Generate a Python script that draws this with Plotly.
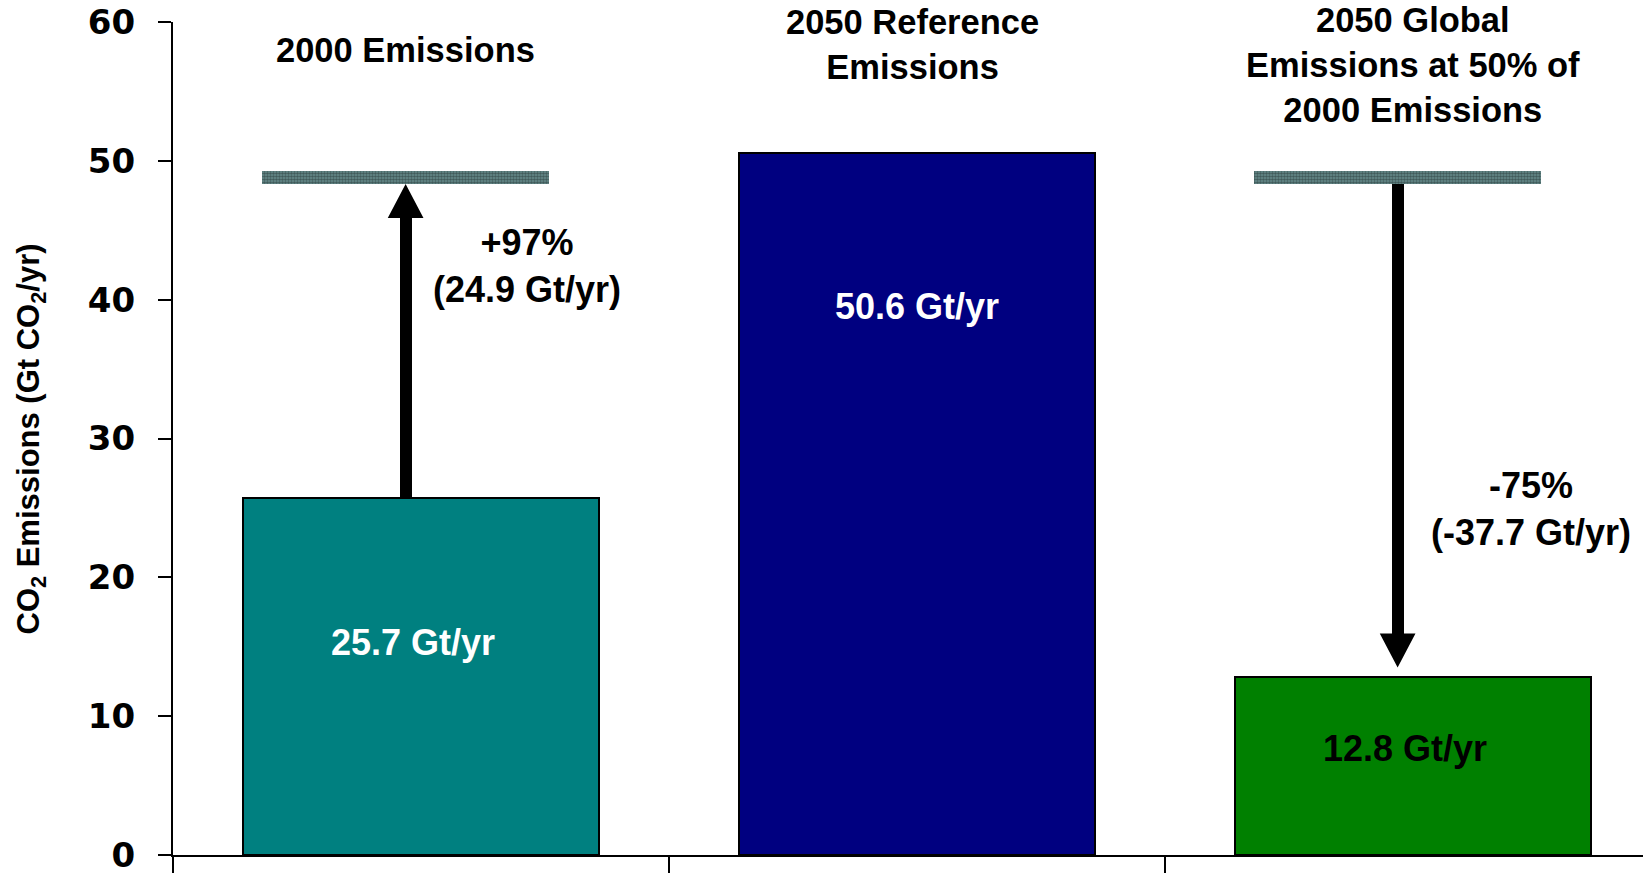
import plotly.graph_objects as go

# --- data -------------------------------------------------------------
CATEGORIES = [
    "2000 Emissions",
    "2050 Reference<br>Emissions",
    "2050 Global<br>Emissions at 50% of<br>2000 Emissions",
]
VALUES = [25.7, 50.6, 12.8]            # Gt CO2 / yr
BAR_COLORS = ["#008080", "#000080", "#008000"]
LABEL_COLORS = ["white", "white", "black"]
CHANGE_PCT = ["+97%", "-75%"]
CHANGE_ABS = [24.9, -37.7]              # Gt / yr
REFERENCE_MARK = 48.8                   # level of the hatched marker bands
Y_TICKS = [0, 10, 20, 30, 40, 50, 60]

# --- styling ----------------------------------------------------------
FONT = "Liberation Sans, Arial, sans-serif"
TICK_FONT = "DejaVu Sans, Arial, sans-serif"
BAR_WIDTH = 0.716
MARK_WIDTH = 0.58
MARK_HALF_THICK = 0.47
ARROW_OFFSET = -0.031                   # arrows sit slightly left of bar centre
SHAFT_W = 0.0242
HEAD_HALF_W = 0.036
HEAD_LEN = 2.45
HEAD_GAP = 0.7

x_idx = list(range(len(VALUES)))
fig = go.Figure()

# main bars
fig.add_trace(go.Bar(
    x=x_idx, y=VALUES, width=BAR_WIDTH,
    marker=dict(color=BAR_COLORS, line=dict(color="black", width=2)),
    hoverinfo="skip", showlegend=False,
))

# hatched marker bands above the first and last bars
band_x = [0 + ARROW_OFFSET, 2 + ARROW_OFFSET]
fig.add_trace(go.Bar(
    x=band_x, y=[2 * MARK_HALF_THICK] * 2,
    base=[REFERENCE_MARK - MARK_HALF_THICK] * 2, width=MARK_WIDTH,
    marker=dict(color="#6a8f8f", line=dict(width=0),
                pattern=dict(shape=".", fgcolor="#182424", bgcolor="#6a9090",
                             size=3, solidity=0.6)),
    hoverinfo="skip", showlegend=False,
))

band_bottom = REFERENCE_MARK - MARK_HALF_THICK

# up arrow: from the 2000 bar to the marker band
up_x = 0 + ARROW_OFFSET
up_head_base = band_bottom - HEAD_LEN
# down arrow: from the marker band to the reduced 2050 bar
dn_x = 2 + ARROW_OFFSET
dn_tip = VALUES[2] + HEAD_GAP
dn_head_base = dn_tip + HEAD_LEN

fig.add_trace(go.Bar(
    x=[up_x, dn_x],
    base=[VALUES[0], dn_head_base],
    y=[up_head_base - VALUES[0], band_bottom - dn_head_base],
    width=SHAFT_W, marker=dict(color="black", line=dict(width=0)),
    hoverinfo="skip", showlegend=False,
))
fig.add_trace(go.Scatter(
    x=[up_x - HEAD_HALF_W, up_x, up_x + HEAD_HALF_W, up_x - HEAD_HALF_W, None,
       dn_x - HEAD_HALF_W, dn_x, dn_x + HEAD_HALF_W, dn_x - HEAD_HALF_W],
    y=[up_head_base, band_bottom, up_head_base, up_head_base, None,
       dn_head_base, dn_tip, dn_head_base, dn_head_base],
    mode="lines", fill="toself", fillcolor="black",
    line=dict(color="black", width=0), hoverinfo="skip", showlegend=False,
))

annotations = []

# category headings
title_pos = [(-0.031, 57.98), (0.99, 58.4), (2.0, 56.9)]
for text, (tx, ty) in zip(CATEGORIES, title_pos):
    annotations.append(dict(
        x=tx, y=ty, xref="x", yref="y", text=text, showarrow=False,
        xanchor="center", yanchor="middle", align="center",
        font=dict(family=FONT, size=34.5, color="black", weight="bold"),
    ))

# value labels inside bars
label_pos = [(-0.016, 15.3), (1.0, 39.5), (1.984, 7.7)]
for v, c, (lx, ly) in zip(VALUES, LABEL_COLORS, label_pos):
    annotations.append(dict(
        x=lx, y=ly, xref="x", yref="y", text=f"{v:.1f} Gt/yr", showarrow=False,
        xanchor="center", yanchor="middle",
        font=dict(family=FONT, size=36, color=c, weight="bold"),
    ))

# change labels next to arrows
change_pos = [(0.214, 42.4), (2.238, 24.9)]
for pct, ab, (cx, cy) in zip(CHANGE_PCT, CHANGE_ABS, change_pos):
    annotations.append(dict(
        x=cx, y=cy, xref="x", yref="y",
        text=f"{pct}<br>({ab:.1f} Gt/yr)", showarrow=False,
        xanchor="center", yanchor="middle", align="center",
        font=dict(family=FONT, size=36, color="black", weight="bold"),
    ))

# y-axis title
annotations.append(dict(
    x=-0.0966, y=0.5, xref="paper", yref="paper",
    text="CO<sub>2</sub> Emissions (Gt CO<sub>2</sub>/yr)", showarrow=False,
    textangle=-90, xanchor="center", yanchor="middle",
    font=dict(family=FONT, size=31, color="black", weight="bold"),
))

plot_w = 1643 - 173
fig.update_layout(
    width=1643, height=873,
    margin=dict(l=173, r=0, t=22, b=18, autoexpand=False),
    paper_bgcolor="white", plot_bgcolor="white",
    barmode="overlay", bargap=0,
    annotations=annotations,
    xaxis=dict(
        range=[-0.5, -0.5 + plot_w / 496], showgrid=False, zeroline=False,
        showline=True, linecolor="black", linewidth=2,
        tickvals=[-0.5, 0.5, 1.5], ticks="outside", ticklen=25,
        tickwidth=2, tickcolor="black", showticklabels=False,
        automargin=False,
    ),
    yaxis=dict(
        range=[0, 60], tickvals=Y_TICKS, showgrid=False, zeroline=False,
        showline=True, linecolor="black", linewidth=2,
        ticks="outside", ticklen=13, tickwidth=2, tickcolor="black",
        ticklabelstandoff=16, automargin=False, ticklabeloverflow="allow",
        tickfont=dict(family=TICK_FONT, size=34, color="black", weight="bold"),
    ),
)

fig.write_html("out.html")
